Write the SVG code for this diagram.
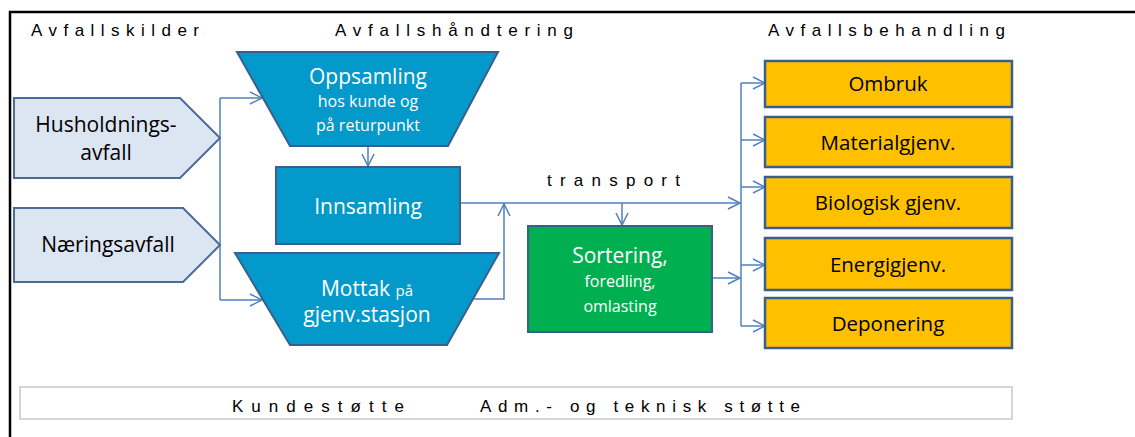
<svg xmlns="http://www.w3.org/2000/svg" width="1135" height="437" viewBox="0 0 1135 437">
<style>
.hdr{font-family:"Liberation Sans",Arial,sans-serif;font-size:17px;fill:#000}
.t{font-family:"Open Sans","Liberation Sans",sans-serif;text-anchor:middle}
.w{fill:#fff}
.k{fill:#000}
.src{fill:#dce6f2;stroke:#4a6c98;stroke-width:2}
.blue{fill:#0399ca;stroke:#3a5f8d;stroke-width:2}
.grn{fill:#00b050;stroke:#3a5f8d;stroke-width:2}
.org{fill:#ffc000;stroke:#3a5f8d;stroke-width:2.5}
.c{fill:none;stroke:#4f81bd;stroke-width:1.5}
</style>
<defs>
<marker id="ar" markerUnits="userSpaceOnUse" markerWidth="16" markerHeight="16" refX="13" refY="7" orient="auto">
<path d="M1,1 L13,7 L1,13" fill="none" stroke="#4f81bd" stroke-width="1.5"/>
</marker>
</defs>
<rect width="1135" height="437" fill="#fff"/>
<path d="M10,437 L10,12 L1135,12" fill="none" stroke="#000" stroke-width="2.5"/>
<text class="hdr" x="31" y="36" textLength="168" lengthAdjust="spacing">Avfallskilder</text>
<text class="hdr" x="335" y="36" textLength="238" lengthAdjust="spacing">Avfallshåndtering</text>
<text class="hdr" x="768" y="36" textLength="237" lengthAdjust="spacing">Avfallsbehandling</text>
<text class="hdr" x="547" y="186" textLength="133" lengthAdjust="spacing">transport</text>

<g id="connectors">
<path class="c" d="M220,98 L220,300"/>
<path class="c" d="M220,98 L262,98" marker-end="url(#ar)"/>
<path class="c" d="M220,300 L262,300" marker-end="url(#ar)"/>
<path class="c" d="M368,147 L368,166" marker-end="url(#ar)"/>
<path class="c" d="M460,203 L740,203" marker-end="url(#ar)"/>
<path class="c" d="M474,299 L504,299 L504,204" marker-end="url(#ar)"/>
<path class="c" d="M622,203 L622,225" marker-end="url(#ar)"/>
<path class="c" d="M712,278 L740,278" marker-end="url(#ar)"/>
<path class="c" d="M741,83 L741,326"/>
<path class="c" d="M741,83 L765,83" marker-end="url(#ar)"/>
<path class="c" d="M741,140 L765,140" marker-end="url(#ar)"/>
<path class="c" d="M741,187 L765,187" marker-end="url(#ar)"/>
<path class="c" d="M741,265 L765,265" marker-end="url(#ar)"/>
<path class="c" d="M741,326 L765,326" marker-end="url(#ar)"/>
</g>

<g id="husholdning">
<path class="src" d="M14,98 L180,98 L220,138 L180,178 L14,178 Z"/>
<text class="t k" x="106" y="132" font-size="21">Husholdnings-</text>
<text class="t k" x="106" y="160" font-size="21">avfall</text>
</g>
<g id="naering">
<path class="src" d="M14,208 L183,208 L220,245 L183,282 L14,282 Z"/>
<text class="t k" x="108" y="252" font-size="21">Næringsavfall</text>
</g>
<g id="oppsamling">
<path class="blue" d="M237,52 L498,52 L448,146 L290,146 Z"/>
<text class="t w" x="368" y="84" font-size="21">Oppsamling</text>
<text class="t w" x="368" y="107" font-size="16">hos kunde og</text>
<text class="t w" x="368" y="131" font-size="16">på returpunkt</text>
</g>
<g id="innsamling">
<rect class="blue" x="276" y="167" width="184" height="77"/>
<text class="t w" x="368" y="214" font-size="21">Innsamling</text>
</g>
<g id="mottak">
<path class="blue" d="M235,253 L499,253 L447,345 L290,345 Z"/>
<text class="t w" x="367" y="296" font-size="21">Mottak <tspan font-size="15">på</tspan></text>
<text class="t w" x="367" y="322" font-size="21">gjenv.stasjon</text>
</g>
<g id="sortering">
<rect class="grn" x="528" y="226" width="184" height="106"/>
<text class="t w" x="620" y="263" font-size="21">Sortering,</text>
<text class="t w" x="620" y="287" font-size="16">foredling,</text>
<text class="t w" x="620" y="312" font-size="16">omlasting</text>
</g>
<g id="ombruk">
<rect class="org" x="765" y="61" width="247" height="46"/>
<text class="t k" x="888" y="91" font-size="20.5">Ombruk</text>
</g>
<g id="material">
<rect class="org" x="765" y="117" width="247" height="50"/>
<text class="t k" x="888" y="150" font-size="20.5">Materialgjenv.</text>
</g>
<g id="biologisk">
<rect class="org" x="765" y="177" width="247" height="51"/>
<text class="t k" x="888" y="210" font-size="20.5">Biologisk gjenv.</text>
</g>
<g id="energi">
<rect class="org" x="765" y="238" width="247" height="52"/>
<text class="t k" x="888" y="272" font-size="20.5">Energigjenv.</text>
</g>
<g id="deponering">
<rect class="org" x="765" y="298" width="247" height="50"/>
<text class="t k" x="888" y="331" font-size="20.5">Deponering</text>
</g>
<g id="stotte">
<rect x="20" y="387" width="992" height="32" fill="#fff" stroke="#c8c8c8" stroke-width="1.5"/>
<text class="hdr" x="232" y="412" textLength="172" lengthAdjust="spacing">Kundestøtte</text>
<text class="hdr" x="480" y="412" textLength="320" lengthAdjust="spacing">Adm.- og teknisk støtte</text>
</g>
</svg>
